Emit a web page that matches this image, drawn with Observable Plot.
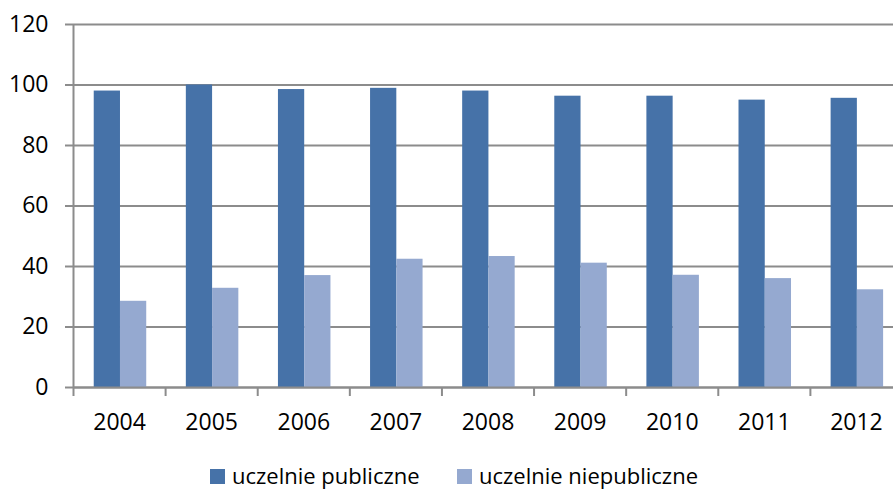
<!DOCTYPE html>
<html>
<head>
<meta charset="utf-8">
<script src="https://cdn.jsdelivr.net/npm/d3@7"></script>
<script src="https://cdn.jsdelivr.net/npm/@observablehq/plot@0.6"></script>
<style>
  html, body { margin: 0; padding: 0; background: #fff; overflow: hidden; }
  #chart svg { overflow: visible; display: block; }
  .legend { position: relative; height: 44px; font-family: "Open Sans", sans-serif; font-size: 22px; color: #000; }
  .legend .item { position: absolute; top: 15px; white-space: nowrap; line-height: 30px; }
  .legend .sw { display: inline-block; width: 15px; height: 15px; margin-right: 7px; vertical-align: baseline; }
</style>
</head>
<body>
<div id="chart"></div>
<div class="legend" id="legend"></div>
<script>
const years = ["2004","2005","2006","2007","2008","2009","2010","2011","2012"];
const publiczne = [98.0, 100.0, 98.5, 98.9, 98.0, 96.3, 96.3, 95.0, 95.6];
const niepubliczne = [28.5, 32.8, 37.0, 42.4, 43.3, 41.1, 37.1, 36.0, 32.3];
const seriesNames = ["uczelnie publiczne", "uczelnie niepubliczne"];
const seriesColors = ["#4672a8", "#95a9d0"];
const yTicks = [0, 20, 40, 60, 80, 100, 120];

const rows = [];
years.forEach((y, i) => {
  rows.push({i, year: y, series: seriesNames[0], value: publiczne[i], a: 0.225, b: 0.51});
  rows.push({i, year: y, series: seriesNames[1], value: niepubliczne[i], a: 0.51, b: 0.795});
});
const boundaries = d3.range(0, years.length + 1);
const centers = years.map((_, i) => i + 0.5);
const font = "Open Sans, sans-serif";
const grid = "#8c8c8c";

const chart = Plot.plot({
  width: 893,
  height: 445,
  marginLeft: 73,
  marginRight: -9,
  marginTop: 24,
  marginBottom: 58,
  style: {fontFamily: font, fontSize: "23px", color: "#000", background: "#fff"},
  x: {type: "linear", domain: [0, years.length], axis: null},
  y: {domain: [0, 120], axis: null},
  color: {domain: seriesNames, range: seriesColors},
  marks: [
    Plot.ruleY(yTicks, {y: d => d, x1: 0, x2: years.length, stroke: grid, strokeWidth: 2, strokeOpacity: 1}),
    Plot.rectY(rows, {x1: d => d.i + d.a, x2: d => d.i + d.b, y1: 0, y2: "value", fill: "series"}),
    Plot.ruleX([0], {y1: 0, y2: 120, stroke: grid, strokeWidth: 2}),
    Plot.axisY({ticks: yTicks, tickSize: 8, tickPadding: 17, stroke: grid, strokeWidth: 2, strokeOpacity: 1, fontSize: 23, fill: "#000", label: null}),
    Plot.axisX({ticks: boundaries, tickSize: 9, tickFormat: () => "", stroke: grid, strokeWidth: 2, strokeOpacity: 1, label: null}),
    Plot.axisX({ticks: centers, tickSize: 0, tickPadding: 26, tickFormat: d => years[Math.round(d - 0.5)], fontSize: 23, fill: "#000", label: null}),
    Plot.ruleY([0], {x1: 0, x2: years.length, stroke: grid, strokeWidth: 2})
  ]
});
document.getElementById("chart").appendChild(chart);

const legend = document.getElementById("legend");
const lefts = [210, 457];
seriesNames.forEach((name, k) => {
  const it = document.createElement("div");
  it.className = "item";
  it.style.left = lefts[k] + "px";
  const sw = document.createElement("span");
  sw.className = "sw";
  sw.style.background = seriesColors[k];
  const t = document.createElement("span");
  t.textContent = name;
  it.appendChild(sw);
  it.appendChild(t);
  legend.appendChild(it);
});
</script>
</body>
</html>
